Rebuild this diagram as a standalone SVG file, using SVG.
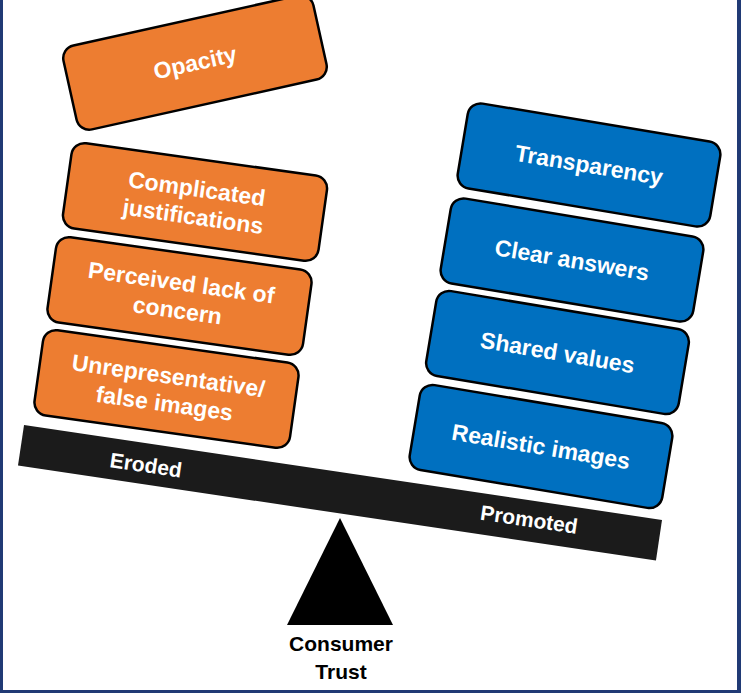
<svg xmlns="http://www.w3.org/2000/svg" width="741" height="693" viewBox="0 0 741 693">
<style>
.box rect{stroke:#000;stroke-width:2.5}
.org rect{fill:#ED7D31}
.blu rect{fill:#0070C0}
.lbl{fill:#fff;font-family:"Liberation Sans",Arial,sans-serif;font-weight:bold;font-size:23px;text-anchor:middle}
.beamtxt{fill:#fff;font-family:"Liberation Sans",Arial,sans-serif;font-weight:bold;font-size:21px;text-anchor:middle}
.cap{fill:#000;font-family:"Liberation Sans",Arial,sans-serif;font-weight:bold;font-size:21px;text-anchor:middle}
</style>
<rect x="0" y="0" width="741" height="693" fill="#fff"/>
<g id="border" fill="#203A75">
<rect x="0" y="0" width="3" height="693"/>
<rect x="737" y="0" width="4" height="693"/>
<rect x="0" y="690" width="741" height="3"/>
</g>
<g id="opacity" class="box org" transform="translate(195,62.5) rotate(-12.5)">
<rect x="-128" y="-43" width="256" height="86" rx="13"/>
<text class="lbl" x="0" y="8">Opacity</text>
</g>
<g id="complicated" class="box org" transform="translate(195,202) rotate(8)">
<rect x="-129" y="-43" width="258" height="86" rx="13"/>
<text class="lbl" x="0" y="-5.5">Complicated</text>
<text class="lbl" x="0" y="22.5">justifications</text>
</g>
<g id="perceived" class="box org" transform="translate(179.5,296) rotate(8)">
<rect x="-129" y="-43" width="258" height="86" rx="13"/>
<text class="lbl" x="0" y="-5.5">Perceived lack of</text>
<text class="lbl" x="0" y="22.5">concern</text>
</g>
<g id="unrepresentative" class="box org" transform="translate(166.5,389) rotate(8)">
<rect x="-129" y="-43" width="258" height="86" rx="13"/>
<text class="lbl" x="0" y="-5.5">Unrepresentative/</text>
<text class="lbl" x="0" y="22.5">false images</text>
</g>
<g id="transparency" class="box blu" transform="translate(589,165) rotate(9.5)">
<rect x="-128" y="-43" width="256" height="86" rx="13"/>
<text class="lbl" x="0" y="8">Transparency</text>
</g>
<g id="clear" class="box blu" transform="translate(572,260) rotate(9.5)">
<rect x="-128" y="-43" width="256" height="86" rx="13"/>
<text class="lbl" x="0" y="8">Clear answers</text>
</g>
<g id="shared" class="box blu" transform="translate(557.5,352.5) rotate(9.5)">
<rect x="-128" y="-43" width="256" height="86" rx="13"/>
<text class="lbl" x="0" y="8">Shared values</text>
</g>
<g id="realistic" class="box blu" transform="translate(541,446.5) rotate(9.5)">
<rect x="-128" y="-43" width="256" height="86" rx="13"/>
<text class="lbl" x="0" y="8">Realistic images</text>
</g>
<g id="beam" transform="translate(340,492.7) rotate(8.47)">
<rect x="-322.5" y="-20.5" width="645" height="41" fill="#1b1b1b"/>
<text class="beamtxt" x="-196" y="8.5">Eroded</text>
<text class="beamtxt" x="191" y="6">Promoted</text>
</g>
<g id="fulcrum">
<polygon points="340,518 287,625 393,625" fill="#000"/>
<text class="cap" x="341" y="651">Consumer</text>
<text class="cap" x="341" y="679">Trust</text>
</g>
<g id="connectors"/>
</svg>
